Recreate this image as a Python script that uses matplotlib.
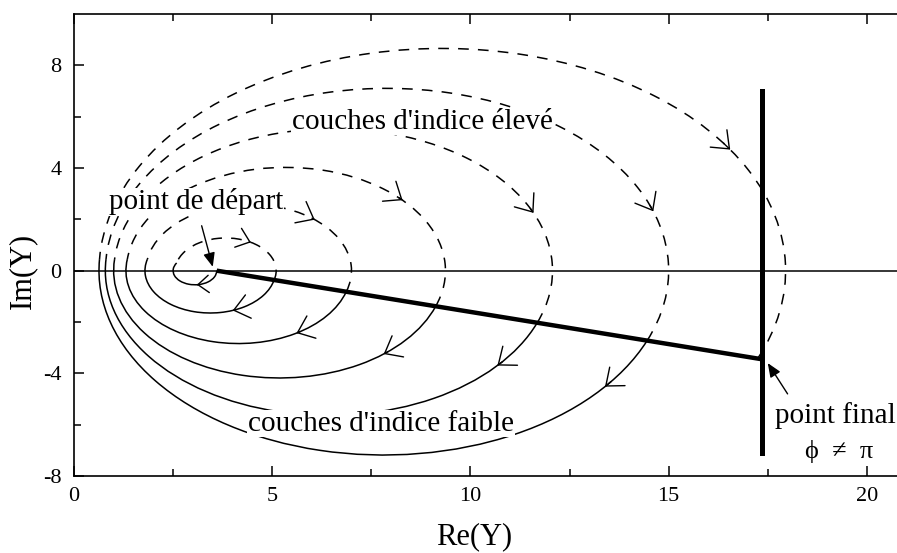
"""Admittance diagram: spiral of low / high index layers from start point to final point."""

import matplotlib

matplotlib.use("Agg")
import matplotlib.pyplot as plt  # noqa: E402
import numpy as np  # noqa: E402
from matplotlib.patches import Arc  # noqa: E402

# values (Re(Y), Im(Y))
START = (3.6, 0.0)          # point de départ
FINAL = (17.35, -3.45)      # point final
# solid arcs (low index) cross the real axis on the left here
LOW_LEFT = [2.5, 1.79, 1.31, 1.0, 0.79, 0.63]
# Im(Y) where each solid arc hands over to the dashed one (left side)
SWITCH_IM = [0.3, 0.45, 0.45, 0.45, 0.45, 0.45]
# dashed arcs (high index) cross the real axis on the right here
HIGH_RIGHT = [5.1, 7.0, 9.37, 12.07, 15.0, 17.95]
# where the direction arrows sit on each arc, degrees from the arc centre
LOW_ARROW_DEG = [-85, -70, -59, -51, -41, -39]
HIGH_ARROW_DEG = [60, 50, 43, 24, 19, 33]
FINAL_LINE_X = 17.35
FINAL_LINE_IM = (-7.1, 7.0)

X_TICKS = [0, 5, 10, 15, 20]
Y_TICKS = [-8, -4, 0, 4, 8]

plt.rcParams["font.family"] = ["Liberation Serif", "DejaVu Serif"]
plt.rcParams["axes.unicode_minus"] = False

DASH = (0, (7, 6))
LW = 1.1


def centre_through(p, x0):
    """centre on the real axis of the circle through p and (x0, 0)"""
    px, py = p
    return (px**2 + py**2 - x0**2) / (2 * (px - x0))


def hit_line(c, r):
    """lower-right crossing of circle (c, r) with the segment START -> FINAL"""
    sx, sy = START
    dx, dy = FINAL[0] - sx, FINAL[1] - sy
    a = dx * dx + dy * dy
    b = 2 * ((sx - c) * dx + sy * dy)
    cc = (sx - c) ** 2 + sy**2 - r * r
    t = (-b + np.sqrt(b * b - 4 * a * cc)) / (2 * a)
    return sx + t * dx, sy + t * dy


def arrow_on(ax, c, r, deg, scale=18):
    # clockwise travel: tail slightly ahead in angle, head at deg
    th, tt = np.radians(deg), np.radians(deg + 2.0)
    ax.annotate("", xy=(c + r * np.cos(th), r * np.sin(th)),
                xytext=(c + r * np.cos(tt), r * np.sin(tt)),
                arrowprops=dict(arrowstyle="->, head_length=0.6, head_width=0.48",
                                lw=1.0, color="k", shrinkA=0, shrinkB=0,
                                mutation_scale=scale))


fig = plt.figure(figsize=(8.97, 5.53), dpi=100)
ax = fig.add_axes([0.0825, 0.1392, 0.9175, 0.8355])

p = START
for k in range(len(LOW_LEFT)):
    # low index layer: solid arc from p, clockwise under the axis, to the left
    xl = LOW_LEFT[k]
    cl = centre_through(p, xl)
    rl = cl - xl
    a0 = np.degrees(np.arctan2(p[1], p[0] - cl))
    h = SWITCH_IM[k]
    a1 = 180 - np.degrees(np.arcsin(h / rl))
    ax.add_patch(Arc((cl, 0), 2 * rl, 2 * rl, theta1=a1, theta2=360 + a0,
                     color="k", lw=LW))
    arrow_on(ax, cl, rl, LOW_ARROW_DEG[k], 13 if k == 0 else 18)

    # high index layer: dashed arc from the switch point over the top
    q = (cl + rl * np.cos(np.radians(a1)), h)
    xr = HIGH_RIGHT[k]
    ch = centre_through(q, xr)
    rh = xr - ch
    b1 = np.degrees(np.arctan2(q[1], q[0] - ch))
    p = hit_line(ch, rh)
    b0 = np.degrees(np.arctan2(p[1], p[0] - ch))
    ax.add_patch(Arc((ch, 0), 2 * rh, 2 * rh, theta1=b0, theta2=b1,
                     color="k", lw=LW, linestyle=DASH))
    arrow_on(ax, ch, rh, HIGH_ARROW_DEG[k], 15 if k == 0 else 18)

ax.axhline(0, color="k", lw=LW)
ax.plot([START[0], FINAL[0]], [START[1], FINAL[1]], color="k", lw=3.2,
        solid_capstyle="butt")
ax.plot([FINAL_LINE_X, FINAL_LINE_X], FINAL_LINE_IM, color="k", lw=3.6)

# labels in the plot
txt = dict(fontsize=21, va="center", ha="left")
white = dict(facecolor="white", edgecolor="none", pad=0.5)
ax.text(5.5, 5.8, "couches d'indice élevé", bbox=white, **txt)
ax.text(4.39, -5.96, "couches d'indice faible", bbox=white, **txt)
ax.text(0.88, 2.69, "point de départ", bbox=white, **txt)
ax.text(17.68, -5.65, "point final", **txt)
ax.text(18.45, -7.05, "ϕ  ≠  π", fontsize=19, va="center", ha="left")

pointer = dict(arrowstyle="-|>, head_length=0.6, head_width=0.25", color="k",
               lw=1.0, shrinkA=0, shrinkB=0, mutation_scale=14)
ax.annotate("", xy=(3.5, 0.15), xytext=(3.22, 1.75), arrowprops=pointer)
ax.annotate("", xy=(17.5, -3.6), xytext=(18.0, -4.8), arrowprops=pointer)

ax.set_xlim(0, 20.76)
ax.set_ylim(-8, 10)
ax.set_xticks(X_TICKS)
ax.set_xticks([2.5, 7.5, 12.5, 17.5], minor=True)
ax.set_yticks(Y_TICKS)
ax.set_yticks([-6, -2, 2, 6], minor=True)
ax.tick_params(axis="both", which="both", direction="in", labelsize=16,
               top=True, right=False, width=1.1)
ax.tick_params(which="major", length=7)
ax.tick_params(which="minor", length=5)
ax.tick_params(axis="x", pad=8)
ax.tick_params(axis="y", pad=9)
ax.spines["right"].set_visible(False)
for s in ("left", "top", "bottom"):
    ax.spines[s].set_linewidth(1.2)

ax.set_xlabel("Re(Y)", fontsize=22)
ax.xaxis.label.set_va("center")
ax.xaxis.set_label_coords(0.4865, -0.132)
ax.set_ylabel("Im(Y)", fontsize=22)
ax.yaxis.set_label_coords(-0.045, 8 / 18)

fig.savefig("out.png", dpi=100)
